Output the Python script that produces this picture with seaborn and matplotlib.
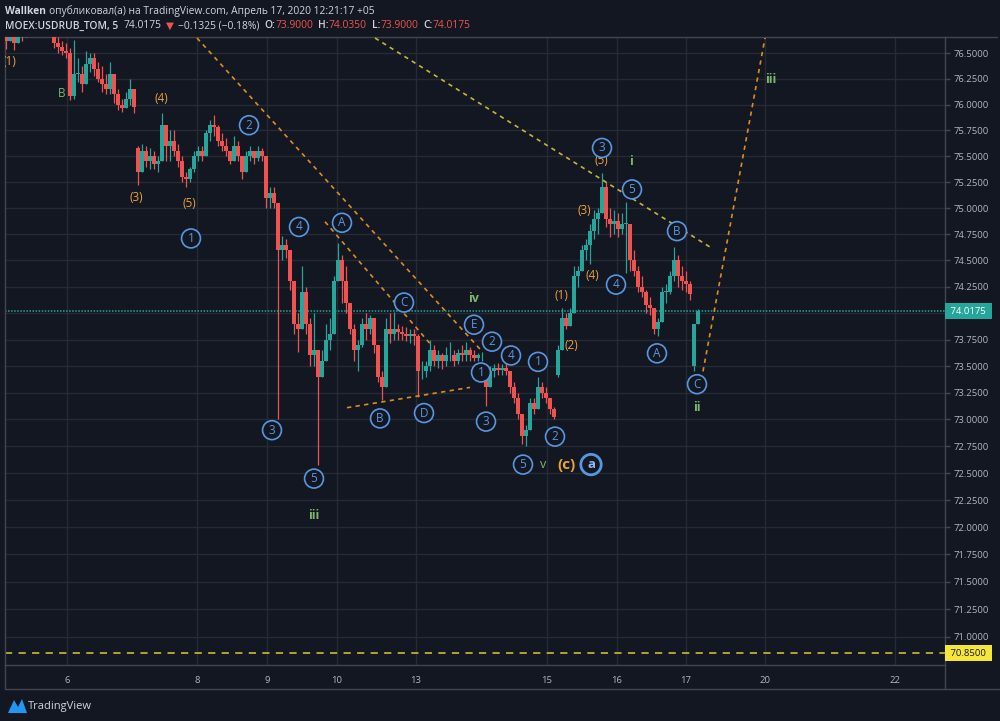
import matplotlib
matplotlib.use("Agg")
import matplotlib.pyplot as plt
import matplotlib.ticker as mticker
from matplotlib.lines import Line2D
from matplotlib.patches import Polygon
import seaborn as sns

highs = [76.70, 76.75, 76.70, 76.80, 76.78, 76.85, 76.85, 76.90, 76.88, 76.85,
         76.82, 76.80, 76.72, 76.66, 76.62, 76.60, 76.55, 76.63, 76.45, 76.38,
         76.52, 76.50, 76.50, 76.42, 76.38, 76.30, 76.42, 76.30, 76.15, 76.05,
         76.12, 76.25, 76.15, 75.60, 75.62, 75.60, 75.58, 75.55, 75.50, 75.92,
         75.80, 75.75, 75.75, 75.62, 75.50, 75.35, 75.40, 75.55, 75.60, 75.60,
         75.75, 75.85, 75.90, 75.80, 75.72, 75.68, 75.55, 75.70, 75.65, 75.50,
         75.55, 75.60, 75.55, 75.60, 75.58, 75.50, 75.20, 75.20, 75.05, 74.73,
         74.70, 74.60, 74.30, 74.00, 74.45, 74.25, 73.95, 74.00, 73.65, 73.65,
         73.90, 73.95, 74.35, 74.67, 74.55, 74.45, 74.10, 73.90, 73.75, 73.95,
         74.00, 73.98, 73.95, 73.70, 73.45, 73.95, 74.00, 74.01, 73.90, 73.88,
         73.87, 73.85, 73.85, 73.80, 73.55, 73.55, 73.75, 73.70, 73.65, 73.62,
         73.68, 73.73, 73.65, 73.66, 73.70, 73.73, 73.68, 73.65, 73.62, 73.63,
         73.45, 73.50, 73.52, 73.53, 73.52, 73.53, 73.45, 73.35, 73.25, 73.05,
         72.95, 73.20, 73.20, 73.40, 73.35, 73.30, 73.20, 73.12, 73.70, 74.05,
         74.00, 74.05, 74.45, 74.45, 74.65, 74.70, 74.85, 74.98, 75.00, 75.34,
         75.25, 75.00, 74.98, 74.95, 74.95, 75.06, 74.80, 74.60, 74.45, 74.35,
         74.22, 74.15, 74.05, 73.95, 74.25, 74.28, 74.40, 74.63, 74.55, 74.45,
         74.40, 74.30, 73.90, 74.035]
lows = [76.54, 76.62, 76.53, 76.62, 76.62, 76.66, 76.72, 76.75, 76.72, 76.72,
        76.68, 76.68, 76.55, 76.50, 76.48, 76.45, 76.04, 76.05, 76.22, 76.12,
        76.20, 76.32, 76.28, 76.22, 76.12, 76.10, 76.10, 76.02, 75.95, 75.93,
        75.97, 76.00, 75.92, 75.22, 75.35, 75.40, 75.38, 75.38, 75.35, 75.45,
        75.45, 75.45, 75.50, 75.40, 75.25, 75.20, 75.25, 75.35, 75.45, 75.45,
        75.50, 75.65, 75.70, 75.60, 75.55, 75.50, 75.42, 75.45, 75.45, 75.28,
        75.35, 75.45, 75.42, 75.45, 75.45, 75.00, 75.00, 75.00, 73.00, 74.50,
        74.52, 74.22, 73.80, 73.63, 73.85, 73.80, 73.50, 73.50, 72.58, 73.40,
        73.55, 73.65, 73.80, 74.30, 74.10, 74.00, 73.80, 73.55, 73.45, 73.68,
        73.75, 73.80, 73.62, 73.35, 73.18, 73.30, 73.72, 73.75, 73.75, 73.75,
        73.74, 73.72, 73.70, 73.21, 73.38, 73.40, 73.45, 73.50, 73.48, 73.47,
        73.50, 73.55, 73.50, 73.52, 73.55, 73.55, 73.55, 73.55, 73.55, 73.55,
        73.13, 73.30, 73.40, 73.42, 73.42, 73.42, 73.25, 73.15, 73.00, 72.77,
        72.75, 72.90, 73.05, 73.10, 73.20, 73.15, 73.05, 73.00, 73.40, 73.65,
        73.85, 73.88, 74.00, 74.25, 74.40, 74.50, 74.47, 74.70, 74.75, 74.95,
        74.82, 74.72, 74.75, 74.72, 74.75, 74.38, 74.40, 74.35, 74.20, 74.15,
        74.00, 73.98, 73.80, 73.78, 73.92, 74.10, 74.18, 74.30, 74.25, 74.22,
        74.20, 74.12, 73.45, 73.90]
closes = [76.62, 76.70, 76.60, 76.75, 76.66, 76.78, 76.80, 76.85, 76.78, 76.80,
          76.72, 76.70, 76.60, 76.56, 76.52, 76.50, 76.08, 76.30, 76.30, 76.20,
          76.40, 76.45, 76.35, 76.25, 76.20, 76.15, 76.30, 76.10, 76.00, 75.97,
          76.05, 76.15, 75.98, 75.35, 75.55, 75.45, 75.50, 75.42, 75.45, 75.80,
          75.60, 75.65, 75.55, 75.45, 75.30, 75.28, 75.38, 75.50, 75.55, 75.50,
          75.72, 75.80, 75.78, 75.65, 75.60, 75.55, 75.45, 75.60, 75.50, 75.35,
          75.50, 75.55, 75.48, 75.55, 75.50, 75.10, 75.15, 75.05, 74.60, 74.65,
          74.60, 74.30, 73.90, 73.85, 74.20, 73.90, 73.60, 73.65, 73.40, 73.55,
          73.75, 73.80, 74.30, 74.50, 74.30, 74.10, 73.85, 73.65, 73.70, 73.90,
          73.85, 73.95, 73.70, 73.40, 73.30, 73.85, 73.80, 73.85, 73.82, 73.80,
          73.78, 73.80, 73.78, 73.45, 73.45, 73.50, 73.65, 73.55, 73.60, 73.55,
          73.60, 73.60, 73.55, 73.62, 73.60, 73.65, 73.60, 73.58, 73.60, 73.60,
          73.30, 73.45, 73.48, 73.46, 73.48, 73.45, 73.30, 73.20, 73.05, 72.85,
          72.90, 73.15, 73.10, 73.30, 73.25, 73.20, 73.10, 73.02, 73.65, 73.95,
          73.88, 74.00, 74.35, 74.40, 74.60, 74.65, 74.78, 74.90, 74.95, 75.20,
          74.90, 74.85, 74.88, 74.80, 74.85, 74.85, 74.50, 74.40, 74.25, 74.20,
          74.08, 74.05, 73.85, 73.92, 74.20, 74.20, 74.35, 74.50, 74.35, 74.30,
          74.28, 74.18, 73.90, 74.0175]
first_open = 76.66
gap_opens = {33: 75.58, 120: 73.42, 138: 73.42, 172: 73.50}

day_labels = ["6", "8", "9", "10", "13", "15", "16", "17", "20", "22"]
day_pos = [15.25, 47.75, 65.25, 82.75, 102.5, 135.25, 152.75, 170.0, 189.75, 222.25]
price_ticks = [71.0 + 0.25 * k for k in range(23)]
last_price = 74.0175
level_price = 70.85

orange_labels = [("(1)", 0.75, 76.42), ("(4)", 38.75, 76.06), ("(3)", 32.5, 75.10),
                 ("(5)", 45.75, 75.04), ("(3)", 144.5, 74.98), ("(5)", 148.75, 75.46),
                 ("(4)", 146.5, 74.36), ("(1)", 138.75, 74.17), ("(2)", 141.25, 73.69)]
green_labels = [("B", 14.0, 76.11), ("iii", 77.0, 72.11), ("iv", 117.0, 74.14),
                ("v", 134.25, 72.58), ("i", 156.25, 75.45), ("ii", 172.75, 73.11),
                ("iii", 191.25, 76.24)]
circle_labels = [("1", 46.25, 74.71), ("2", 60.75, 75.80), ("3", 66.5, 72.90),
                 ("4", 73.25, 74.82), ("5", 77.0, 72.45), ("A", 84.0, 74.86),
                 ("B", 93.5, 73.01), ("C", 99.5, 74.10), ("D", 104.5, 73.06),
                 ("E", 117.0, 73.89), ("2", 121.5, 73.73), ("1", 118.75, 73.44),
                 ("4", 126.25, 73.60), ("3", 120.0, 72.98), ("1", 133.0, 73.54),
                 ("2", 137.25, 72.84), ("5", 129.25, 72.58), ("3", 149.0, 75.58),
                 ("5", 156.5, 75.18), ("4", 152.5, 74.27), ("A", 162.75, 73.62),
                 ("B", 167.75, 74.78), ("C", 172.75, 73.33)]
# trend lines: (x0, p0, x1, p1, yellow?)
trend_lines = [(47.75, 76.65, 118.5, 73.66, False),
               (79.75, 74.87, 106.5, 73.69, False),
               (85.25, 73.11, 116.0, 73.30, False),
               (92.25, 76.65, 176.75, 74.61, True),
               (174.25, 73.45, 189.75, 76.65, False)]

BG = "#131722"
GRID = "#262a35"
SPINE = "#434651"
TXT = "#b2b5be"
WHITE = "#d1d4dc"
UP = "#26a69a"
DOWN = "#ef5350"
ORANGE = "#eba23a"
GREEN = "#7cb86c"
BLUE = "#5897e0"
FS = 6.8

sns.set_theme(style="dark", rc={"axes.facecolor": BG, "figure.facecolor": BG})
plt.rcParams["font.family"] = ["Open Sans", "DejaVu Sans"]

W, H = 1000, 721
fig = plt.figure(figsize=(10, 7.21), dpi=100)
ax = fig.add_axes([5 / W, (H - 665) / H, 940 / W, (665 - 37) / H])
ax.set_facecolor(BG)
ax.set_yscale("log")

# candles
opens = []
for i in range(len(closes)):
    if i in gap_opens:
        opens.append(gap_opens[i])
    elif i == 0:
        opens.append(first_open)
    else:
        opens.append(closes[i - 1])
xs = list(range(len(closes)))
cols = [UP if c >= o else DOWN for o, c in zip(opens, closes)]
hi = [max(h, o, c) for h, o, c in zip(highs, opens, closes)]
lo = [min(l, o, c) for l, o, c in zip(lows, opens, closes)]
ax.vlines(xs, lo, hi, colors=cols, lw=0.9, zorder=3)
bottoms = [min(o, c) for o, c in zip(opens, closes)]
heights = [max(abs(c - o), 0.006) for o, c in zip(opens, closes)]
ax.bar(xs, heights, bottom=bottoms, width=0.85, color=cols, lw=0, zorder=3)

# levels
ax.axhline(last_price, color=UP, lw=1.1, ls=(0, (1, 1)), zorder=2)
ax.axhline(level_price, color="#bfae32", lw=1.3, ls=(0, (4, 3.5)), zorder=2)

for x0, p0, x1, p1, yel in trend_lines:
    ax.plot([x0, x1], [p0, p1], color="#c9b43a" if yel else "#dd8c22",
            lw=1.2, ls=(0, (2.6, 2.6)), zorder=4)

# wave labels
for s, x, p in orange_labels:
    ax.text(x, p, s, color=ORANGE, fontsize=8.5, ha="center", va="center", zorder=6)
ax.text(140.0, 72.58, "(c)", color=ORANGE, fontsize=11, fontweight="bold",
        ha="center", va="center", zorder=6)
for s, x, p in green_labels:
    ax.text(x, p, s, color=GREEN, fontsize=9 if s != "B" else 8.5,
            fontweight="normal" if s in ("B", "v") else "bold",
            ha="center", va="center", zorder=6)
for s, x, p in circle_labels:
    ax.text(x, p, s, color=BLUE, fontsize=8.5, ha="center", va="center", zorder=6,
            bbox=dict(boxstyle="circle,pad=0.25", fc=BG, ec=BLUE, lw=1.2))
ax.text(146.25, 72.58, "a", color="#8cbaf0", fontsize=9.5, fontweight="bold",
        ha="center", va="center", zorder=6,
        bbox=dict(boxstyle="circle,pad=0.28", fc=BG, ec=BLUE, lw=2))
for t in ax.texts:
    t.set_clip_on(True)

# axes
ax.set_xlim(-0.25, 234.75)
ax.set_ylim(70.743, 76.66)
ax.set_xticks(day_pos)
ax.set_xticklabels(day_labels)
ax.yaxis.tick_right()
ax.yaxis.set_major_locator(mticker.FixedLocator(price_ticks))
ax.yaxis.set_minor_locator(mticker.NullLocator())
ax.yaxis.set_minor_formatter(mticker.NullFormatter())
# the 74.0 label sits under the last price tag
ax.yaxis.set_major_formatter(mticker.FuncFormatter(
    lambda v, p: "" if abs(v - last_price) < 0.05 else f"{v:.4f}"))
ax.tick_params(axis="y", colors=SPINE, labelcolor=TXT, labelsize=FS,
               length=3.6, width=1, pad=2.2, direction="out")
ax.tick_params(axis="x", colors=SPINE, labelcolor=TXT, labelsize=FS,
               length=3, width=1, pad=5, direction="out")
ax.grid(True, color=GRID, lw=1)
for sp in ax.spines.values():
    sp.set_color(SPINE)
    sp.set_linewidth(1)
    sp.set_visible(True)

# price tags on the scale
ytr = ax.get_yaxis_transform()
ax.text(1.0 + 3 / 940, last_price, " 74.0175 ", transform=ytr, color="white",
        fontsize=FS, ha="left", va="center", clip_on=False, zorder=10,
        bbox=dict(boxstyle="square,pad=0.35", fc=UP, ec="none"))
ax.text(1.0 + 3 / 940, level_price, " 70.8500 ", transform=ytr, color=BG,
        fontsize=FS, ha="left", va="center", clip_on=False, zorder=10,
        bbox=dict(boxstyle="square,pad=0.35", fc="#f7e63a", ec="none"))

# frame bits around the scales
for xs_, ys_ in [([5, 1000], [689, 689]), ([945, 997], [37, 37]),
                 ([5, 5], [665, 689]), ([945, 945], [665, 689])]:
    fig.add_artist(Line2D([v / W for v in xs_], [1 - v / H for v in ys_],
                          transform=fig.transFigure, color=SPINE, lw=1))

# header
rend = fig.canvas.get_renderer()


def text_run(y_px, runs, x_px=5):
    for s, col, wt, gap in runs:
        t = fig.text(x_px / W, 1 - y_px / H, s, color=col, fontsize=7.4,
                     fontweight=wt, ha="left", va="center")
        x_px += t.get_window_extent(rend).width + gap


text_run(11, [("Wallken", WHITE, "bold", 3),
              ("опубликовал(а) на TradingView.com, Апрель 17, 2020 12:21:17 +05", WHITE, "normal", 0)])
text_run(26, [("MOEX:USDRUB_TOM, 5", WHITE, "semibold", 5), ("74.0175", WHITE, "normal", 5),
              ("▼", DOWN, "normal", 4), ("−0.1325 (−0.18%)", WHITE, "normal", 5),
              ("O:", WHITE, "semibold", 0), ("73.9000", DOWN, "normal", 5),
              ("H:", WHITE, "semibold", 0), ("74.0350", DOWN, "normal", 5),
              ("L:", WHITE, "semibold", 0), ("73.9000", DOWN, "normal", 5),
              ("C:", WHITE, "semibold", 0), ("74.0175", DOWN, "normal", 0)])

# logo
fig.add_artist(Polygon([(8 / W, 1 - 713 / H), (14 / W, 1 - 700 / H), (18 / W, 1 - 707 / H),
                        (22 / W, 1 - 699 / H), (27 / W, 1 - 713 / H)],
                       closed=True, transform=fig.transFigure, fc="#2196f3", ec="none"))
fig.text(28 / W, 1 - 706 / H, "TradingView", color=WHITE, fontsize=8, ha="left", va="center")

fig.savefig("out.png", dpi=100, facecolor=BG)
